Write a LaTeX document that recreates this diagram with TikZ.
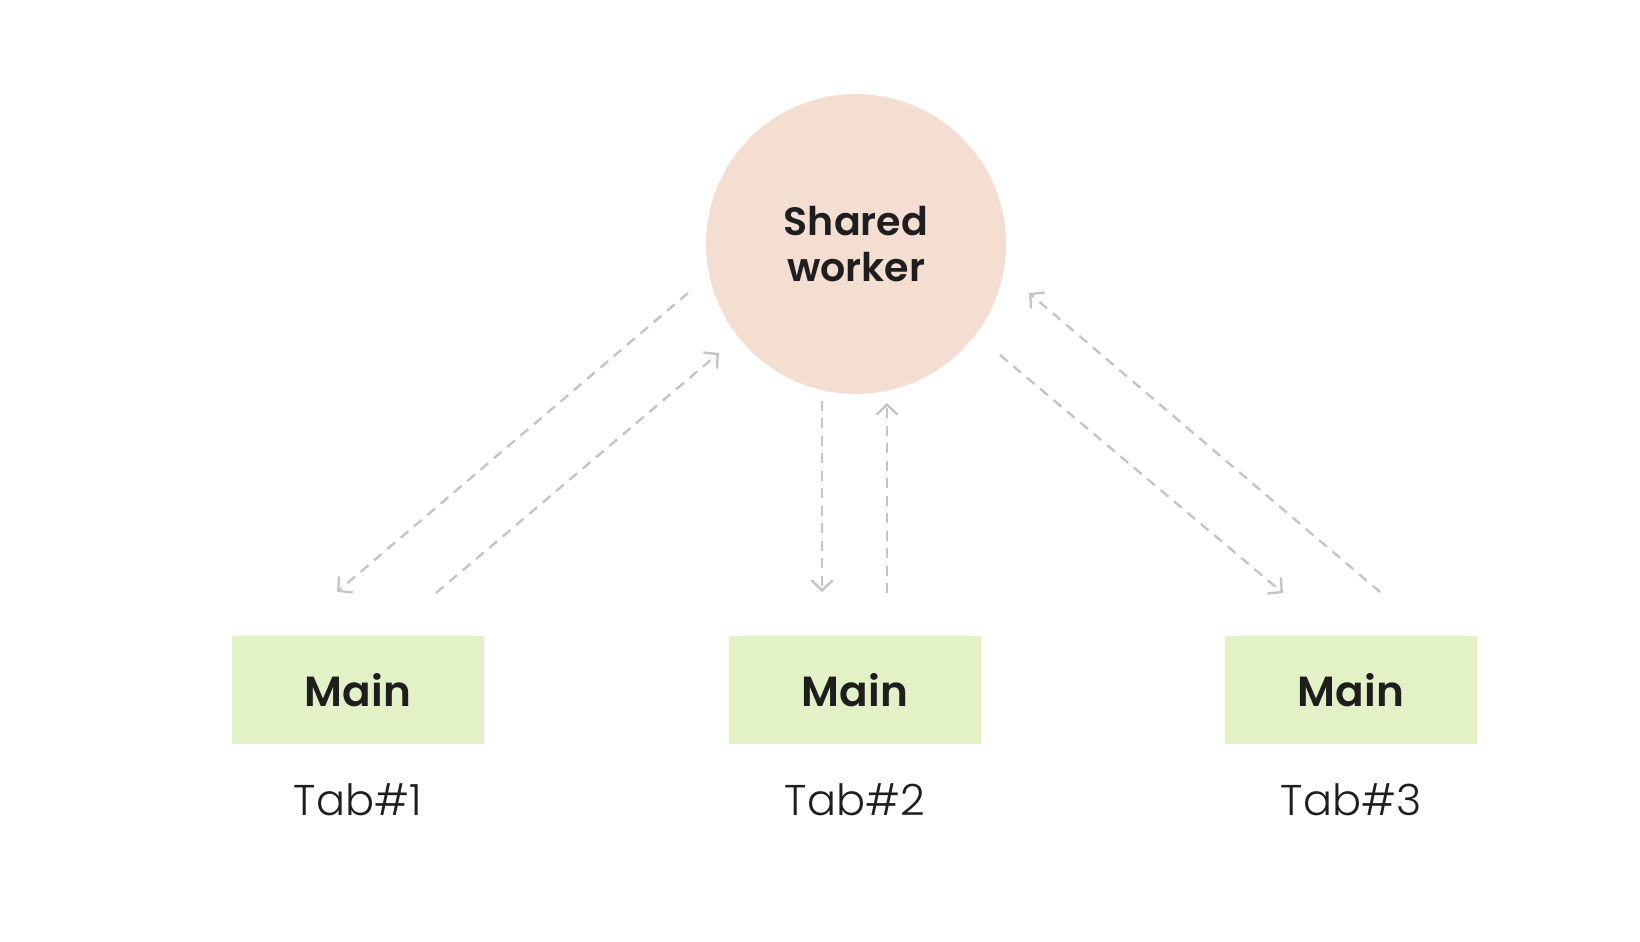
\documentclass[tikz,border=0pt]{standalone}
\usepackage{fontspec}
\setmainfont{Poppins}
\newfontfamily\tabfont{Poppins}[UprightFont=* Light]
\newfontfamily\boxfont{Poppins}[UprightFont=* SemiBold]
\usetikzlibrary{arrows.meta,positioning}
\definecolor{swpeach}{HTML}{F4DDD1}
\definecolor{tabgreen}{HTML}{E3F2C6}
\definecolor{msggray}{HTML}{C4C4C4}
\definecolor{inkdark}{HTML}{1E1E1E}
\tikzset{
  worker/.style={circle, fill=swpeach, minimum size=6cm, align=center, text=inkdark,
                 font=\boxfont\fontsize{22.5}{26}\selectfont},
  mainbox/.style={rectangle, fill=tabgreen, minimum width=5.04cm, minimum height=2.16cm,
                  text=inkdark, font=\boxfont\fontsize{24}{28}\selectfont},
  tablabel/.style={inner sep=0pt, text=inkdark, font=\tabfont\fontsize{24.5}{28}\selectfont},
  msg/.style={-{Straight Barb[length=2mm, width=4.2mm]}, line width=1.35pt, draw=msggray,
              dash pattern=on 2mm off 1.5mm},
}

\begin{document}
\begin{tikzpicture}[x=0.02cm, y=-0.02cm, node distance=7.8mm]
  \useasboundingbox (0,0) rectangle (1640,942);
  \node[worker] (sw) at (856,244) {Shared\\worker};
  \node[mainbox] (m1) at (358,690) {Main};
  \node[mainbox] (m2) at (855,690) {Main};
  \node[mainbox] (m3) at (1351,690) {Main};
  \node[tablabel, below=of m1] (t1) {Tab\#1};
  \node[tablabel, below=of m2] (t2) {Tab\#2};
  \node[tablabel, below=of m3] (t3) {Tab\#3};
  % message ends
  \coordinate (a1) at (688,293);  \coordinate (a2) at (337,592);
  \coordinate (b1) at (436,593);  \coordinate (b2) at (719,353);
  \coordinate (c1) at (822,401);  \coordinate (c2) at (822,592);
  \coordinate (d1) at (887,593);  \coordinate (d2) at (887,403);
  \coordinate (e1) at (1380,592); \coordinate (e2) at (1029,293);
  \coordinate (f1) at (1000,355); \coordinate (f2) at (1283,593);
  \draw[msg] (a1) -- (a2); \draw[msg] (b1) -- (b2);
  \draw[msg] (c1) -- (c2); \draw[msg] (d1) -- (d2);
  \draw[msg] (e1) -- (e2); \draw[msg] (f1) -- (f2);
\end{tikzpicture}
\end{document}
